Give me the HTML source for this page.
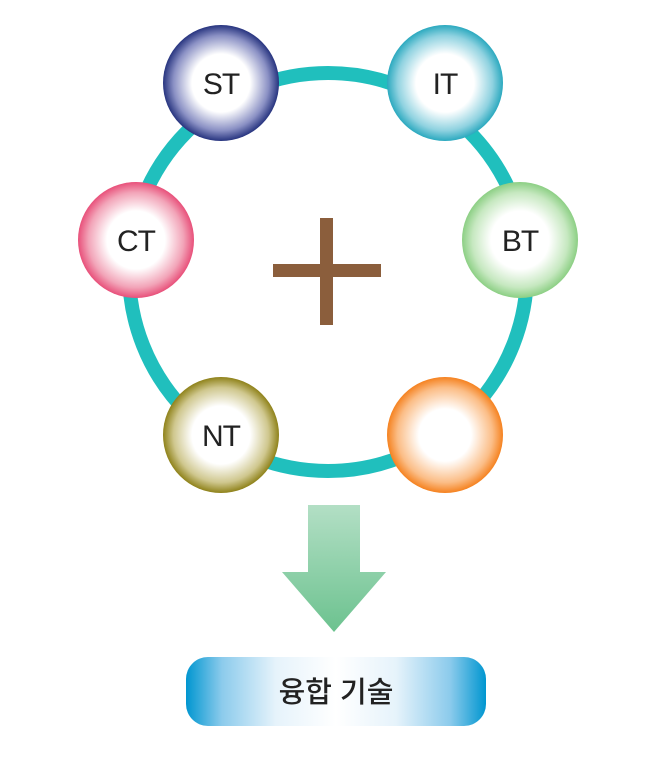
<!DOCTYPE html>
<html><head><meta charset="utf-8"><style>
html,body{margin:0;padding:0;background:#fff;}
svg{display:block;}
text{font-family:"Liberation Sans","Noto Sans CJK KR",sans-serif;fill:#222;}
</style></head><body>
<svg width="657" height="758" viewBox="0 0 657 758" xmlns="http://www.w3.org/2000/svg">
<defs>
<radialGradient id="gST"><stop offset="0.5" stop-color="#fff"/><stop offset="0.82" stop-color="#8a90c4"/><stop offset="1" stop-color="#27347f"/></radialGradient>
<radialGradient id="gIT"><stop offset="0.5" stop-color="#fff"/><stop offset="0.82" stop-color="#8fd2e0"/><stop offset="1" stop-color="#2ba9bf"/></radialGradient>
<radialGradient id="gCT"><stop offset="0.5" stop-color="#fff"/><stop offset="0.82" stop-color="#f2a4b8"/><stop offset="1" stop-color="#e8507a"/></radialGradient>
<radialGradient id="gBT"><stop offset="0.5" stop-color="#fff"/><stop offset="0.82" stop-color="#c6e8c0"/><stop offset="1" stop-color="#8ccf84"/></radialGradient>
<radialGradient id="gNT"><stop offset="0.5" stop-color="#fff"/><stop offset="0.82" stop-color="#cfc78e"/><stop offset="1" stop-color="#8f821a"/></radialGradient>
<radialGradient id="gOR"><stop offset="0.45" stop-color="#fff"/><stop offset="0.82" stop-color="#fbbd86"/><stop offset="1" stop-color="#f58220"/></radialGradient>
<linearGradient id="gAr" x1="0" y1="0" x2="0" y2="1"><stop offset="0" stop-color="#b3dfc5"/><stop offset="1" stop-color="#6cc28f"/></linearGradient>
<linearGradient id="gBox" x1="0" y1="0" x2="1" y2="0"><stop offset="0" stop-color="#0096d0"/><stop offset="0.12" stop-color="#8ccbec"/><stop offset="0.3" stop-color="#e6f3fb"/><stop offset="0.5" stop-color="#fff"/><stop offset="0.7" stop-color="#e6f3fb"/><stop offset="0.88" stop-color="#8ccbec"/><stop offset="1" stop-color="#0096d0"/></linearGradient>
</defs>
<circle cx="328" cy="272" r="199" fill="none" stroke="#20bfbd" stroke-width="14"/>
<rect x="273" y="264" width="108" height="13" fill="#8b5e3c"/>
<rect x="320" y="218" width="13" height="107" fill="#8b5e3c"/>
<circle cx="221" cy="83" r="58" fill="url(#gST)"/>
<circle cx="445" cy="83" r="58" fill="url(#gIT)"/>
<circle cx="136" cy="240" r="58" fill="url(#gCT)"/>
<circle cx="520" cy="240" r="58" fill="url(#gBT)"/>
<circle cx="221" cy="435" r="58" fill="url(#gNT)"/>
<circle cx="445" cy="435" r="58" fill="url(#gOR)"/>
<g font-size="30" text-anchor="middle" letter-spacing="-1">
<text x="221" y="94">ST</text>
<text x="445" y="94">IT</text>
<text x="136" y="251">CT</text>
<text x="520" y="251">BT</text>
<text x="221" y="446">NT</text>
</g>
<path d="M308 505 H360 V572 H386 L334 632 L282 572 H308 Z" fill="url(#gAr)"/>
<rect x="186" y="657" width="300" height="69" rx="22" fill="url(#gBox)"/>
<text x="336" y="702" font-size="29" text-anchor="middle" style="font-weight:500">융합 기술</text>
</svg>
</body></html>
